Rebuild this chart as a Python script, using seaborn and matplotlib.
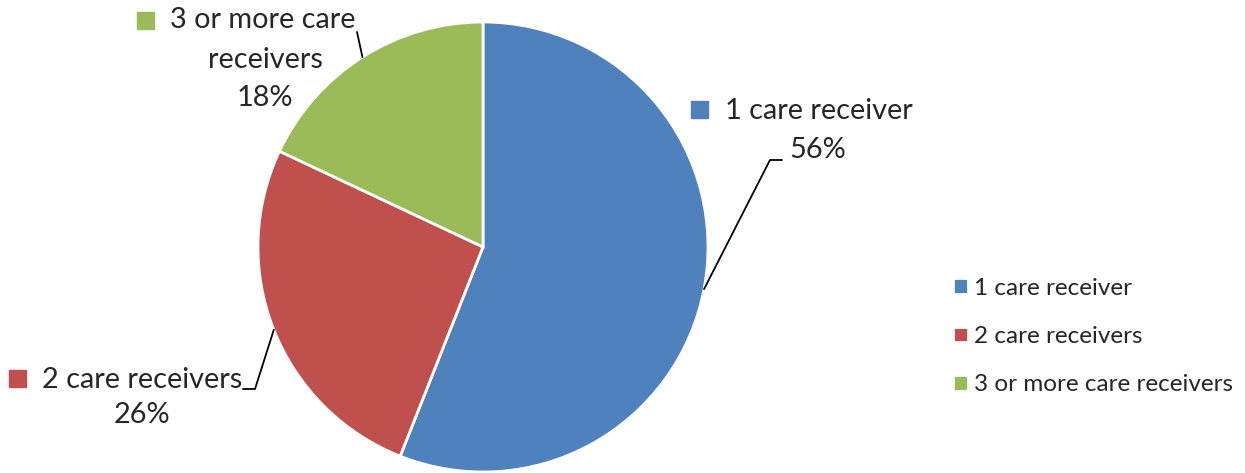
import numpy as np
import seaborn as sns
import matplotlib.pyplot as plt
from matplotlib.patches import Rectangle

# data
categories = ["1 care receiver", "2 care receivers", "3 or more care receivers"]
shares = [56, 26, 18]
pct_labels = ["56%", "26%", "18%"]
colors = ["#4F81BD", "#C0504D", "#9BBB59"]

W, H = 1245, 473
sns.set_theme(style="white")
plt.rcParams['font.family'] = ['Lato', 'DejaVu Sans']

fig = plt.figure(figsize=(W / 100, H / 100), dpi=100)
ax = fig.add_axes([0, 0, 1, 1])

# pie in pixel coordinates (y measured from the top, flipped for matplotlib)
cx, cy, r = 483, H - 247, 225
wedges, _ = ax.pie(shares, colors=colors, startangle=90, counterclock=False,
                   center=(cx, cy), radius=r,
                   wedgeprops=dict(edgecolor="white", linewidth=2))
ax.set_xlim(0, W)
ax.set_ylim(0, H)
ax.set_aspect("equal")
ax.axis("off")


def edge_point(w):
    mid = np.deg2rad((w.theta1 + w.theta2) / 2)
    return cx + r * np.cos(mid), cy + r * np.sin(mid)


def px(x, y):
    return x, H - y


lbl_size = 20.8

# 1 care receiver
ax.add_patch(Rectangle(px(691, 118), 17, 17, color=colors[0]))
ax.text(*px(725, 111), categories[0], fontsize=lbl_size, va="center", ha="left")
ax.text(*px(818, 150), pct_labels[0], fontsize=lbl_size, va="center", ha="center")
ex, ey = edge_point(wedges[0])
ax.plot([ex, 770, 782], [ey, H - 160, H - 160], color="black", lw=1.3)

# 2 care receivers
ax.add_patch(Rectangle(px(9, 387), 17, 17, color=colors[1]))
ax.text(*px(42, 380), categories[1], fontsize=lbl_size, va="center", ha="left")
ax.text(*px(142, 415), pct_labels[1], fontsize=lbl_size, va="center", ha="center")
ex, ey = edge_point(wedges[1])
ax.plot([243, 255, ex], [H - 389, H - 389, ey], color="black", lw=1.3)

# 3 or more care receivers
ax.add_patch(Rectangle(px(137, 29), 17, 17, color=colors[2]))
ax.text(*px(170, 20), "3 or more care", fontsize=lbl_size, va="center", ha="left")
ax.text(*px(265, 60), "receivers", fontsize=lbl_size, va="center", ha="center")
ax.text(*px(265, 98), pct_labels[2], fontsize=lbl_size, va="center", ha="center")
ex, ey = edge_point(wedges[2])
ax.plot([357, ex], [H - 32, ey], color="black", lw=1.3)

# legend
fig.legend(wedges, categories, loc="upper left",
           bbox_to_anchor=(931 / W, 1 - 256 / H), frameon=False,
           fontsize=17.5, handlelength=0.62, handleheight=0.62,
           handletextpad=0.25, labelspacing=1.12)

fig.savefig("out.png", dpi=100)
